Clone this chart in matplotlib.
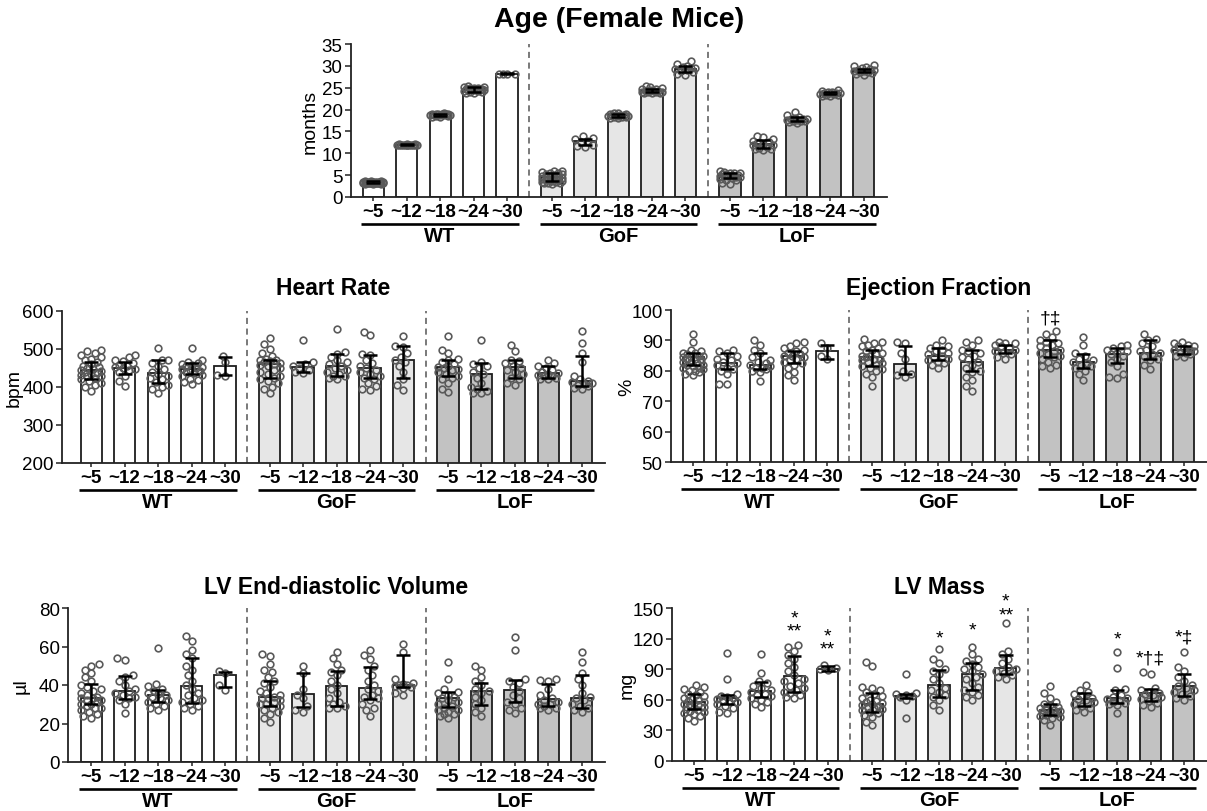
import numpy as np
import matplotlib.pyplot as plt
from matplotlib.transforms import offset_copy

plt.rcParams['font.family'] = ['Liberation Sans', 'DejaVu Sans']

W, H = 1207, 812

ages = ['~5', '~12', '~18', '~24', '~30']
genotypes = ['WT', 'GoF', 'LoF']
fills = ['white', '#e6e6e6', '#c2c2c2']

# ---- Age (months) ----
age_med = [3.4, 12.0, 18.9, 24.6, 28.2, 4.6, 12.7, 18.7, 24.3, 29.3, 5.0, 12.2, 17.8, 23.8, 28.9]
age_lo = [3.2, 11.95, 18.6, 24.1, 28.1, 3.7, 12.0, 18.4, 24.0, 28.7, 4.3, 11.3, 17.4, 23.5, 28.5]
age_hi = [3.6, 12.05, 19.1, 25.1, 28.3, 5.4, 13.3, 19.0, 24.6, 29.9, 5.4, 13.0, 18.2, 24.1, 29.3]
age_pts = [
    [3.7, 3.6, 3.6, 3.5, 3.5, 3.5, 3.4, 3.4, 3.4, 3.4, 3.3, 3.3, 3.3, 3.3, 3.3, 3.2, 3.2, 3.2, 3.2, 3.1, 3.1, 3.1, 3.0, 3.0, 3.0, 3.5, 3.4, 3.2],
    [12.1, 12.1, 12.0, 12.0, 12.0, 12.0, 12.0, 12.0, 12.0, 12.0, 11.9, 11.9, 12.0, 12.1, 11.9],
    [19.2, 19.1, 19.0, 19.0, 18.9, 18.9, 18.8, 18.8, 18.8, 18.7, 18.7, 18.6, 18.5, 18.4, 18.3, 18.9],
    [25.3, 25.2, 25.1, 25.0, 24.9, 24.8, 24.7, 24.6, 24.5, 24.5, 24.4, 24.3, 24.2, 24.1, 24.0, 23.9, 23.8, 24.6, 24.4, 25.0],
    [28.2, 28.2, 28.2, 28.2],
    [6.0, 5.9, 5.8, 5.6, 5.5, 5.3, 5.2, 5.0, 4.9, 4.7, 4.6, 4.5, 4.4, 4.3, 4.2, 4.0, 3.9, 3.8, 3.7, 3.6, 3.5, 3.4, 3.3, 3.2, 3.1, 3.0],
    [14.0, 13.5, 13.2, 12.8, 12.5, 12.0, 11.6, 11.5],
    [19.3, 19.2, 19.0, 18.9, 18.8, 18.8, 18.7, 18.6, 18.6, 18.5, 18.4, 18.3, 18.2, 18.1, 18.0, 18.7],
    [25.4, 25.2, 25.0, 24.8, 24.6, 24.5, 24.4, 24.3, 24.2, 24.2, 24.1, 24.0, 24.0, 23.9, 23.8, 23.8, 24.3, 24.1],
    [31.2, 30.4, 30.0, 29.8, 29.6, 29.4, 29.2, 29.0, 28.8, 28.5, 28.2, 28.0],
    [6.0, 5.8, 5.6, 5.5, 5.4, 5.3, 5.2, 5.1, 5.0, 4.9, 4.8, 4.7, 4.6, 4.5, 4.3, 4.1, 4.0, 3.8, 3.2, 2.9],
    [14.0, 13.8, 13.2, 12.8, 12.4, 12.2, 12.0, 11.8, 11.5, 11.3, 11.0, 10.9, 10.8, 12.5],
    [19.5, 18.8, 18.3, 18.0, 17.9, 17.8, 17.7, 17.6, 17.5, 17.4, 17.3, 17.2, 17.0, 17.8],
    [24.5, 24.2, 24.1, 24.0, 23.9, 23.8, 23.8, 23.7, 23.6, 23.5, 23.4, 23.3, 23.2, 23.0],
    [30.2, 29.9, 29.7, 29.5, 29.3, 29.1, 29.0, 28.9, 28.8, 28.6, 28.5, 28.3, 28.1, 28.0],
]

# ---- Heart rate (bpm) ----
hr_med = [445, 450, 437, 448, 456, 460, 452, 455, 450, 472, 453, 435, 452, 438, 415]
hr_lo = [420, 435, 410, 435, 432, 424, 440, 430, 425, 423, 428, 395, 425, 425, 403]
hr_hi = [465, 467, 470, 462, 480, 472, 465, 488, 483, 508, 472, 462, 472, 455, 481]
hr_pts = [
    [498, 495, 490, 485, 480, 475, 470, 465, 460, 455, 452, 450, 448, 445, 442, 440, 438, 435, 432, 430, 428, 425, 420, 415, 410, 405, 400, 390],
    [483, 478, 472, 468, 462, 458, 455, 452, 450, 448, 445, 440, 430, 415, 402],
    [502, 472, 470, 462, 455, 448, 440, 435, 430, 425, 420, 412, 405, 400, 395, 385],
    [502, 470, 465, 462, 460, 458, 455, 452, 450, 448, 445, 442, 440, 438, 432, 428, 422, 418, 412, 408],
    [482, 465, 432, 430],
    [528, 512, 500, 490, 482, 475, 472, 470, 468, 465, 462, 460, 458, 455, 450, 445, 440, 435, 430, 425, 420, 415, 410, 400, 395, 383],
    [525, 465, 460, 455, 450, 445, 440, 438],
    [553, 492, 488, 480, 470, 465, 460, 455, 450, 445, 440, 435, 430, 428, 425, 422],
    [546, 538, 488, 485, 470, 462, 455, 450, 445, 440, 435, 430, 425, 420, 410, 402, 395, 393],
    [533, 508, 505, 490, 480, 470, 465, 455, 440, 420, 405, 392],
    [533, 498, 490, 475, 470, 465, 460, 455, 452, 450, 448, 445, 440, 435, 430, 425, 420, 410, 395, 387],
    [523, 465, 460, 455, 450, 440, 435, 425, 410, 400, 395, 390, 385, 383],
    [510, 495, 472, 468, 462, 455, 450, 445, 440, 435, 425, 420, 410, 405],
    [470, 462, 455, 450, 445, 440, 438, 435, 432, 430, 428, 425, 422, 420],
    [548, 515, 490, 465, 430, 420, 415, 412, 410, 408, 405, 402, 398, 395],
]

# ---- Ejection fraction (%) ----
ef_med = [84.5, 82.5, 82, 85, 86.5, 84.5, 82.3, 85, 83, 87, 87, 83, 85.5, 86, 87]
ef_lo = [82, 80.5, 80.5, 82.5, 84, 81.5, 79, 83.5, 80, 86, 84.5, 81, 82.5, 84, 85.5]
ef_hi = [86, 86, 86, 86.5, 88.5, 87, 88, 87.5, 87, 88.5, 90, 85.5, 87.5, 90, 88]
ef_pts = [
    [92, 89.5, 87, 86.5, 86, 86, 85.5, 85, 85, 84.5, 84.5, 84, 84, 83.5, 83, 83, 82.5, 82, 82, 81.5, 81, 81, 80.5, 80, 80, 79.5, 79, 78.5],
    [87, 86.5, 86, 85, 84, 83.5, 83, 82.5, 82, 81, 80.5, 80, 79, 75.5, 75.5],
    [90, 88.5, 87, 86, 84.5, 83.5, 83, 82.5, 82, 81.5, 81, 80.5, 80, 81, 79.5, 76.5],
    [89.5, 89, 88, 87.5, 87, 86.5, 86, 85.5, 85, 85, 84.5, 84, 83.5, 83, 82.5, 82, 81, 79.5, 78.5, 77],
    [89, 87.5, 85, 84],
    [90.5, 89.5, 89, 88.5, 88, 87.5, 87, 86.5, 86, 85.5, 85, 85, 84.5, 84, 84, 83.5, 83, 82.5, 82, 81.5, 81, 80.5, 80, 79, 78, 75],
    [89.5, 89, 86, 84, 80, 79, 78.5, 78],
    [90, 88.5, 88, 87.5, 87, 86.5, 86, 85.5, 85, 84.5, 84, 83.5, 83, 82.5, 82, 81],
    [90, 89.5, 88.5, 87, 86.5, 86, 85, 84.5, 84, 83, 82, 81, 80, 79.5, 78, 77, 75, 73.5],
    [89.5, 89, 89, 88.5, 88, 87.5, 87, 86.5, 86, 85.5, 84.5, 84],
    [93, 92, 91, 90, 89.5, 89, 88.5, 88, 87.5, 87, 86.5, 86, 85.5, 85, 84.5, 84, 83, 82, 81.5, 81],
    [91, 88.5, 86, 85, 84, 83.5, 83, 82.5, 82, 81.5, 81, 80, 79, 77],
    [88.5, 88, 87.5, 87, 86.5, 86, 85.5, 85, 84, 83, 81.5, 79, 78, 77.5],
    [92, 90.5, 90, 89, 88, 87, 86.5, 86, 85.5, 85, 84, 83.5, 82, 80.5],
    [89.5, 89, 88.5, 88, 88, 87.5, 87, 87, 86.5, 86, 86, 85.5, 85, 84.5],
]

# ---- LV end-diastolic volume (ul) ----
edv_med = [33.5, 37, 35, 39.5, 45, 34, 35.5, 39.5, 38.5, 40, 33, 37, 37.5, 32.5, 33]
edv_lo = [30, 32.5, 31, 30.5, 39, 29, 28.5, 29, 32.5, 39, 28.5, 29.5, 31, 29, 28]
edv_hi = [40.5, 44.5, 37.5, 54, 47, 42, 46, 47.5, 49.5, 55.5, 36.5, 41, 42.5, 40.5, 45]
edv_pts = [
    [51, 50, 48, 46, 44, 42, 40, 39, 38, 37, 36, 35, 34, 33, 33, 32, 32, 31, 30, 30, 29, 28, 28, 27, 26, 25, 24, 23],
    [54, 53, 45, 44, 42, 40, 38, 37, 36, 35, 34, 33, 32, 30, 25.5],
    [59, 40.5, 39.5, 38, 37, 36, 35.5, 35, 34, 33, 32, 31, 30, 29, 28, 27],
    [65.5, 63, 58, 56, 54, 50, 48, 45, 42, 40, 38, 36, 35, 33, 32, 31, 30, 29, 28, 27],
    [47.5, 46, 40, 37.5],
    [56, 55, 51, 48, 47, 44, 42, 41, 39, 37, 36, 35, 34, 33, 33, 32, 31, 30, 30, 29, 28, 27, 26, 25, 23, 21],
    [50, 46, 38, 35, 33, 29, 27, 26],
    [57, 54, 51, 48, 47, 45, 42, 40, 38, 36, 33, 31, 30, 29, 28, 28],
    [58, 55.5, 53.5, 50, 48, 45, 42, 40, 38, 37, 35, 34, 33, 32, 30, 28, 27, 24],
    [61.5, 57, 43, 41, 40.5, 40, 40, 39.5, 39, 38.5, 36, 35],
    [52, 43, 38, 36.5, 36, 35, 34, 33, 32, 31, 30, 29, 28, 27, 27, 26, 25, 25, 24, 23],
    [50, 48, 44, 42, 40, 38, 37, 36, 34, 32, 30, 28, 26, 24],
    [65, 58, 43, 42, 41, 39, 37, 35, 33, 31, 30, 28, 27, 25.5],
    [43, 42.5, 42, 38, 35, 33, 32, 31, 30, 30, 29, 28, 28, 27],
    [57, 52, 46, 43, 40, 36, 34, 33, 32, 30, 29, 28, 27, 26],
]

# ---- LV mass (mg) ----
mass_med = [58, 62, 69, 83, 90, 56, 63.5, 75, 85, 91, 50, 61, 62, 67, 74]
mass_lo = [51, 56, 63, 68, 88, 48, 62, 63, 70, 85, 45, 54, 57, 59, 64]
mass_hi = [66, 64.5, 77.5, 103, 93, 67, 66, 89, 96, 104, 56, 67, 70, 71, 85]
mass_pts = [
    [75, 73, 71, 70, 68, 66, 65, 64, 62, 61, 60, 59, 58, 57, 56, 55, 54, 53, 52, 51, 50, 49, 48, 47, 46, 44, 42, 39],
    [106, 80, 66, 64, 63, 62, 61, 60, 59, 58, 56, 54, 52, 48, 47],
    [105, 86, 78, 76, 74, 72, 70, 68, 66, 65, 64, 62, 60, 58, 56, 53],
    [114, 112, 108, 104, 100, 96, 92, 88, 84, 80, 78, 76, 74, 72, 70, 68, 67, 65, 63, 62],
    [94, 91, 90, 89],
    [97, 93, 73, 72, 70, 68, 66, 64, 62, 60, 59, 58, 57, 56, 55, 54, 53, 52, 51, 50, 48, 47, 45, 43, 38, 35],
    [85, 67, 66, 65, 64, 63, 60, 42],
    [110, 100, 96, 90, 88, 85, 80, 76, 72, 70, 68, 65, 63, 60, 55, 50],
    [112, 105, 100, 98, 95, 92, 90, 88, 85, 82, 80, 76, 73, 70, 68, 65, 63, 60],
    [135, 108, 105, 100, 96, 92, 90, 88, 86, 84, 82, 80],
    [74, 67, 62, 58, 56, 55, 53, 52, 51, 50, 49, 48, 47, 46, 45, 44, 43, 42, 40, 35],
    [75, 70, 68, 66, 64, 62, 61, 60, 58, 56, 54, 52, 50, 48],
    [107, 91, 71, 70, 65, 63, 62, 61, 60, 58, 57, 56, 55, 47],
    [87, 85, 72, 70, 68, 67, 66, 65, 63, 61, 59, 57, 55, 53],
    [107, 92, 88, 82, 78, 75, 74, 72, 70, 68, 66, 64, 62, 60],
]

# significance marks: (bar index, text, y of text centre)
ef_notes = [(10, '†‡', 97.5)]
mass_notes = [(3, '*\n**', 134), (4, '*\n**', 116), (7, '*', 121), (8, '*', 128),
              (9, '*\n**', 150), (12, '*', 120), (13, '*†‡', 101), (14, '*‡', 122)]

GAP = 5.33
xs = np.array([i + g * GAP for g in range(3) for i in range(5)])
BW = 0.63

fig = plt.figure(figsize=(W / 100, H / 100), dpi=100)


def swarm_offsets(vals, ppu_y, ppu_x, diam=6.5, half=10.0):
    # simple beeswarm: place points from low to high, nearest free slot to the centre
    vals = np.asarray(vals, float)
    order = np.argsort(vals, kind='stable')
    cands = sorted(np.linspace(-half, half, 11), key=abs)
    placed = []
    off = np.zeros(len(vals))
    for k in order:
        y = vals[k] * ppu_y
        best, best_d = 0.0, -1.0
        for c in cands:
            d = min([np.hypot(c - px, y - py) for px, py in placed], default=1e9)
            if d >= diam:
                best = c
                break
            if d > best_d:
                best, best_d = c, d
        placed.append((best, y))
        off[k] = best / ppu_x
    return off


def panel(box, title, tsize, tgap, ylabel, ygap, ylim, yticks, med, lo, hi, pts, lm, notes=()):
    l, t, r, b = box
    ax = fig.add_axes([l / W, 1 - b / H, (r - l) / W, (b - t) / H])
    xlim = (-lm, xs[-1] + 0.69)
    ax.set_xlim(xlim)
    ax.set_ylim(ylim)
    ppu_x = (r - l) / (xlim[1] - xlim[0])
    ppu_y = (b - t) / (ylim[1] - ylim[0])
    med = np.array(med, float)
    colors = [fills[i // 5] for i in range(15)]
    ax.bar(xs, med, width=BW, color=colors, edgecolor='#1e1e1e', linewidth=1.3, zorder=1)
    for i in range(15):
        off = swarm_offsets(pts[i], ppu_y, ppu_x)
        ax.plot(xs[i] + off, pts[i], 'o', ms=4.8, mfc='none', mec='#5a5a5a', mew=1.2,
                zorder=2, clip_on=False)
    ax.errorbar(xs, med, yerr=[med - np.array(lo), np.array(hi) - med], fmt='none',
                ecolor='black', elinewidth=1.8, capsize=5, capthick=1.8, zorder=3)
    for g in (1, 2):
        xd = (xs[g * 5 - 1] + xs[g * 5]) / 2
        ax.axvline(xd, color='#555555', lw=1.1, ls=(0, (4, 3)), zorder=0)

    for s in ('top', 'right'):
        ax.spines[s].set_visible(False)
    for s in ('left', 'bottom'):
        ax.spines[s].set_linewidth(1.3)
        ax.spines[s].set_color('#222222')
    ax.set_yticks(yticks)
    ax.set_xticks(xs)
    ax.set_xticklabels(ages * 3, fontweight='bold', fontsize=13.5)
    ax.tick_params(axis='x', length=3, width=1.1, pad=1.5, colors='#222222', labelcolor='black')
    ax.tick_params(axis='y', length=4, width=1.1, pad=2, labelsize=13.5, colors='#222222', labelcolor='black')

    tr_line = offset_copy(ax.get_xaxis_transform(), fig=fig, y=-27, units='dots')
    tr_lab = offset_copy(ax.get_xaxis_transform(), fig=fig, y=-39, units='dots')
    for g in range(3):
        x0, x1 = xs[g * 5] - 0.35, xs[g * 5 + 4] + 0.35
        ax.plot([x0, x1], [0, 0], transform=tr_line, color='black', lw=1.9,
                clip_on=False, solid_capstyle='butt')
        ax.text((x0 + x1) / 2, 0, genotypes[g], transform=tr_lab, ha='center', va='center',
                fontsize=14.5, fontweight='bold')

    ax.text(0.5, 1 + tgap / (b - t), title, transform=ax.transAxes, ha='center', va='center',
            fontsize=tsize, fontweight='bold')
    ax.text(-ygap / (r - l), 0.5, ylabel, transform=ax.transAxes, rotation=90,
            ha='center', va='center', fontsize=14)

    for i, txt, yc in notes:
        ax.text(xs[i], yc, txt, ha='center', va='center', fontsize=14, linespacing=0.7,
                clip_on=False)
    return ax


panel((351, 45, 887, 198), 'Age (Female Mice)', 20.5, 25, 'months', 41, (0, 35),
      range(0, 36, 5), age_med, age_lo, age_hi, age_pts, 0.66)
panel((62, 312, 605, 464), 'Heart Rate', 16.5, 23, 'bpm', 48, (200, 600),
      range(200, 601, 100), hr_med, hr_lo, hr_hi, hr_pts, 0.87)
panel((671, 311, 1207, 463), 'Ejection Fraction', 16.5, 23, '%', 44, (50, 100),
      range(50, 101, 10), ef_med, ef_lo, ef_hi, ef_pts, 0.66, ef_notes)
panel((68, 609, 605, 763), 'LV End-diastolic Volume', 16.5, 21, 'µl', 47, (0, 80),
      range(0, 81, 20), edv_med, edv_lo, edv_hi, edv_pts, 0.69)
panel((672, 609, 1207, 762), 'LV Mass', 16.5, 21, 'mg', 45, (0, 150),
      range(0, 151, 30), mass_med, mass_lo, mass_hi, mass_pts, 0.66, mass_notes)

fig.savefig('out.png', dpi=100)
